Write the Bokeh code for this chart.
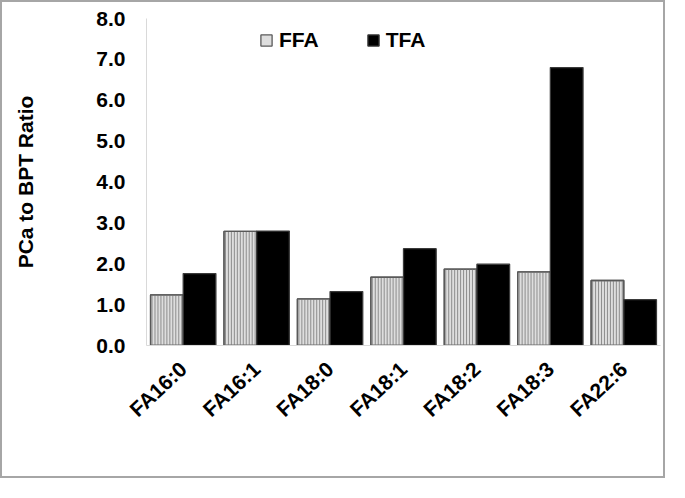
from bokeh.plotting import figure
from bokeh.models import ColumnDataSource, FactorRange, Legend, LegendItem, CustomJSTickFormatter
from bokeh.transform import dodge
from bokeh.embed import file_html
from bokeh.resources import INLINE

categories = ["FA16:0", "FA16:1", "FA18:0", "FA18:1", "FA18:2", "FA18:3", "FA22:6"]
ffa = [1.24, 2.79, 1.14, 1.67, 1.87, 1.80, 1.59]
tfa = [1.76, 2.80, 1.32, 2.37, 1.99, 6.80, 1.12]
y_ticks = [0, 1, 2, 3, 4, 5, 6, 7, 8]

FONT = "Liberation Sans"
FS = "21px"

src = ColumnDataSource(dict(cat=categories, ffa=ffa, tfa=tfa))

p = figure(width=665, height=478, output_backend="svg", toolbar_location=None,
           x_range=FactorRange(*categories), y_range=(0, 8),
           min_border_left=144, min_border_right=7, min_border_top=16, min_border_bottom=135)
p.styles = {"border": "2px solid #a6a6a6"}
p.outline_line_color = None
p.xgrid.grid_line_color = None
p.ygrid.grid_line_color = None
p.background_fill_color = "white"
p.border_fill_color = "white"

bw = 0.445
# FFA bars: light fill, vertical stripes, outline on top
r1 = p.vbar(x=dodge("cat", -bw / 2, range=p.x_range), top="ffa", width=bw, source=src,
            fill_color="#dedede", line_color="#595959", line_width=1.3)
n_str = 11
step = bw / n_str
for i in range(n_str):
    off = -bw + (i + 0.5) * step
    p.vbar(x=dodge("cat", off, range=p.x_range), top="ffa", width=0.014, source=src,
           fill_color="#8f8f8f", line_color=None)
p.vbar(x=dodge("cat", -bw / 2, range=p.x_range), top="ffa", width=bw, source=src,
       fill_color=None, line_color="#595959", line_width=1.3)
r2 = p.vbar(x=dodge("cat", bw / 2, range=p.x_range), top="tfa", width=bw, source=src,
            fill_color="black", line_color="#3a3a3a", line_width=1.3)

# y axis
p.yaxis.ticker = y_ticks
p.yaxis.formatter = CustomJSTickFormatter(code="return tick.toFixed(1);")
p.yaxis.axis_label = "PCa to BPT Ratio"
p.yaxis.axis_label_text_font = FONT
p.yaxis.axis_label_text_font_style = "bold"
p.yaxis.axis_label_text_font_size = FS
p.yaxis.axis_label_text_color = "black"
p.yaxis.axis_label_standoff = 56
p.yaxis.major_label_text_font = FONT
p.yaxis.major_label_text_font_style = "bold"
p.yaxis.major_label_text_font_size = FS
p.yaxis.major_label_text_color = "black"
p.yaxis.major_label_standoff = 21
p.yaxis.major_tick_line_color = None
p.yaxis.minor_tick_line_color = None
p.yaxis.major_tick_out = 0
p.yaxis.major_tick_in = 0
p.yaxis.axis_line_color = "#d9d9d9"

# x axis
p.xaxis.major_label_orientation = 0.75
p.xaxis.major_label_text_font = FONT
p.xaxis.major_label_text_font_style = "bold"
p.xaxis.major_label_text_font_size = FS
p.xaxis.major_label_text_color = "black"
p.xaxis.major_label_standoff = 20
p.xaxis.major_tick_line_color = None
p.xaxis.major_tick_out = 0
p.xaxis.major_tick_in = 0
p.xaxis.axis_line_color = "#d9d9d9"

legend = Legend(items=[LegendItem(label="FFA", renderers=[r1]),
                       LegendItem(label="TFA", renderers=[r2])],
                orientation="horizontal", location=(113, 293),
                glyph_width=14, glyph_height=14, label_standoff=6, spacing=47,
                padding=0, margin=0, border_line_color=None, background_fill_alpha=0,
                label_text_font=FONT, label_text_font_style="bold",
                label_text_font_size=FS, label_text_color="black")
p.add_layout(legend)

open("out.html", "w").write(file_html(p, INLINE))
